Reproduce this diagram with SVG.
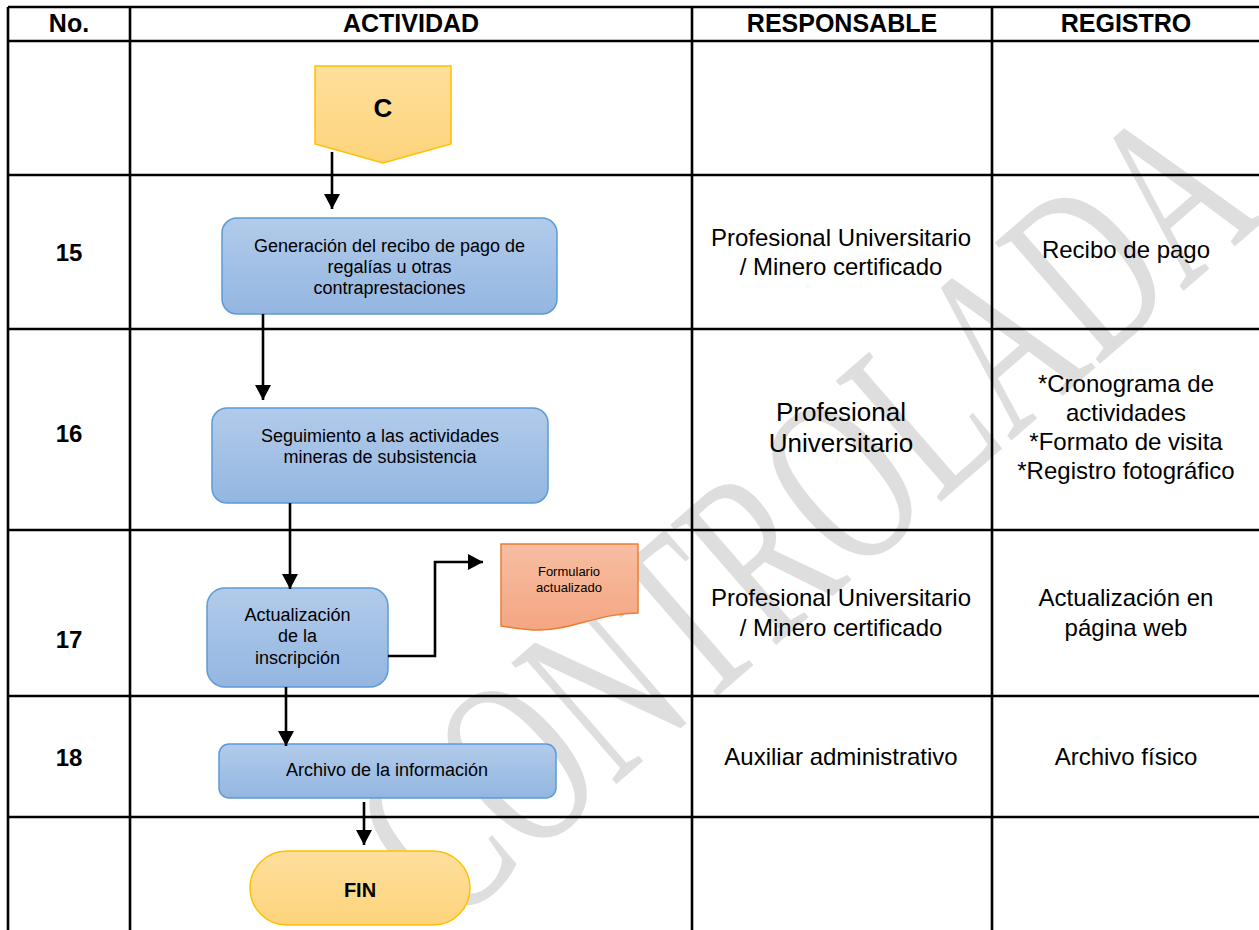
<svg xmlns="http://www.w3.org/2000/svg" width="1259" height="930" viewBox="0 0 1259 930">
<defs>
<style>
.h{font-family:"Liberation Sans",Arial,sans-serif;font-weight:bold;font-size:25px;text-anchor:middle;fill:#000}
.num{font-family:"Liberation Sans",Arial,sans-serif;font-weight:bold;font-size:24px;text-anchor:middle;fill:#000}
.cell{font-family:"Liberation Sans",Arial,sans-serif;font-size:24px;text-anchor:middle;fill:#000}
.cell2{font-family:"Liberation Sans",Arial,sans-serif;font-size:26px;text-anchor:middle;fill:#000}
.bx{font-family:"Liberation Sans",Arial,sans-serif;font-size:18px;text-anchor:middle;fill:#000}
.doc{font-family:"Liberation Sans",Arial,sans-serif;font-size:13px;text-anchor:middle;fill:#000}
.bold{font-family:"Liberation Sans",Arial,sans-serif;font-weight:bold;text-anchor:middle;fill:#000}
.grid{stroke:#000;stroke-width:2.6;fill:none}
.blue{fill:url(#gBlue);stroke:#5b9bd5;stroke-width:1.5}
.yel{fill:url(#gYel);stroke:#ffc000;stroke-width:1.5}
.org{fill:url(#gOrg);stroke:#ed7d31;stroke-width:1.5}
.conn{stroke:#000;stroke-width:2.6;fill:none}
.arr{marker-end:url(#ah)}
.wm{font-family:"Liberation Serif","Times New Roman",serif;fill:#dedede}
</style>
<linearGradient id="gBlue" x1="0" y1="0" x2="0" y2="1"><stop offset="0" stop-color="#b2cbea"/><stop offset="1" stop-color="#93b6e1"/></linearGradient>
<linearGradient id="gYel" x1="0" y1="0" x2="0" y2="1"><stop offset="0" stop-color="#fedf9c"/><stop offset="1" stop-color="#fdd47c"/></linearGradient>
<linearGradient id="gOrg" x1="0" y1="0" x2="0" y2="1"><stop offset="0" stop-color="#f7bea2"/><stop offset="1" stop-color="#f4a682"/></linearGradient>
<marker id="ah" markerUnits="userSpaceOnUse" markerWidth="16" markerHeight="16" refX="15" refY="8" orient="auto"><path d="M0,0 L15,8 L0,16 Z" fill="#000"/></marker>
</defs>
<rect width="1259" height="930" fill="#fff"/>
<g id="watermark">
<text class="wm" font-size="158" text-anchor="middle" transform="translate(858,574) rotate(-41) scale(1,1.55)">CONTROLADA</text>
</g>
<g id="table">
<path class="grid" d="M8,7 H1259 M8,41 H1259 M8,175 H1259 M8,329 H1259 M8,530 H1259 M8,696 H1259 M8,817 H1259 M8,7 V930 M130,7 V930 M692,7 V930 M992,7 V930"/>
</g>
<g id="header">
<text class="h" x="69" y="32">No.</text>
<text class="h" x="411" y="32">ACTIVIDAD</text>
<text class="h" x="842" y="32">RESPONSABLE</text>
<text class="h" x="1126" y="32">REGISTRO</text>
</g>
<g id="numbers">
<text class="num" x="69" y="261">15</text>
<text class="num" x="69" y="442">16</text>
<text class="num" x="69" y="648">17</text>
<text class="num" x="69" y="766">18</text>
</g>
<g id="responsable">
<text class="cell" x="841" y="246">Profesional Universitario</text>
<text class="cell" x="841" y="275">/ Minero certificado</text>
<text class="cell2" x="841" y="421">Profesional</text>
<text class="cell2" x="841" y="452">Universitario</text>
<text class="cell" x="841" y="606">Profesional Universitario</text>
<text class="cell" x="841" y="636">/ Minero certificado</text>
<text class="cell" x="841" y="765">Auxiliar administrativo</text>
</g>
<g id="registro">
<text class="cell" x="1126" y="258">Recibo de pago</text>
<text class="cell" x="1126" y="392">*Cronograma de</text>
<text class="cell" x="1126" y="421">actividades</text>
<text class="cell" x="1126" y="450">*Formato de visita</text>
<text class="cell" x="1126" y="479">*Registro fotográfico</text>
<text class="cell" x="1126" y="606">Actualización en</text>
<text class="cell" x="1126" y="636">página web</text>
<text class="cell" x="1126" y="765">Archivo físico</text>
</g>
<g id="node-c">
<path class="yel" d="M315,66 H451 V144 L383,163 L315,144 Z"/>
<text class="bold" font-size="26" x="383" y="117">C</text>
</g>
<g id="node-15">
<rect class="blue" x="222" y="218" width="335" height="96" rx="15"/>
<text class="bx" x="389.5" y="252">Generación del recibo de pago de</text>
<text class="bx" x="389.5" y="273">regalías u otras</text>
<text class="bx" x="389.5" y="294">contraprestaciones</text>
</g>
<g id="node-16">
<rect class="blue" x="212" y="408" width="336" height="95" rx="15"/>
<text class="bx" x="380" y="442">Seguimiento a las actividades</text>
<text class="bx" x="380" y="463">mineras de subsistencia</text>
</g>
<g id="node-17">
<rect class="blue" x="207" y="588" width="181" height="99" rx="18"/>
<text class="bx" x="297.5" y="621">Actualización</text>
<text class="bx" x="297.5" y="642">de la</text>
<text class="bx" x="297.5" y="664">inscripción</text>
</g>
<g id="node-doc">
<path class="org" d="M501,544 H638 V613 C600,613 572,630 540,630 C522,630 510,627 501,626 Z"/>
<text class="doc" x="569" y="576">Formulario</text>
<text class="doc" x="569" y="592">actualizado</text>
</g>
<g id="node-18">
<rect class="blue" x="219" y="744" width="337" height="54" rx="10"/>
<text class="bx" x="387" y="776">Archivo de la información</text>
</g>
<g id="node-fin">
<rect class="yel" x="250" y="851" width="220" height="74" rx="37"/>
<text class="bold" font-size="20" x="360" y="897">FIN</text>
</g>
<g id="connectors">
<path class="conn arr" d="M332,152 V209"/>
<path class="conn arr" d="M263,314 V400"/>
<path class="conn arr" d="M290,503 V589"/>
<path class="conn arr" d="M388,656 H435 V562 H483"/>
<path class="conn arr" d="M286,687 V746"/>
<path class="conn arr" d="M364,802 V845"/>
</g>
</svg>
